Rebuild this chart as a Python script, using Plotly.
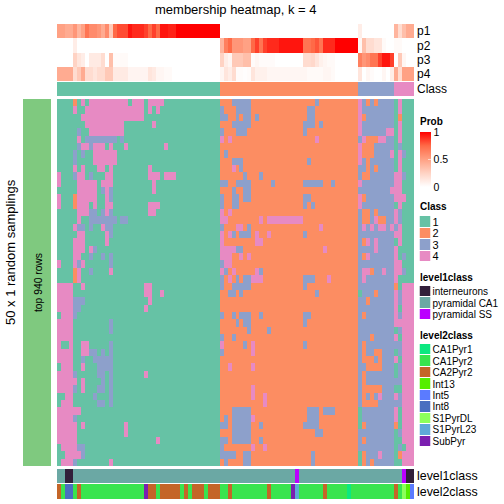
import plotly.graph_objects as go

N_COLS = 90
CLASS_COLORS = ["#66C2A5", "#FC8D62", "#8DA0CB", "#E78AC3"]
CLASS_NAMES = ["1", "2", "3", "4"]
TOP_LABELS = ["p1", "p2", "p3", "p4"]
column_class = [1] * 41 + [2] * 35 + [3] * 9 + [4] * 5

p1 = [.5, .5, .45, .45, .55, .4, .5, .7, .6, .6, .55, .45, .6, .3, .75, .82, .82, .82, .95, .9, .9, .9, .85, .75, .85, .75, .95, .95, .92, .92,
      1, 1, 1, 1, 1, 1, 1, 1, 1, 1, 1] + [0] * 35 + [.1, 0, 0, 0, 0, 0, 0, 0, 0] + [.4, .2, .35, .45, .45]
p2 = [0, 0, 0, 0, .1] + [0] * 36 + [.4, .65, .75, .55, .55, .55, .5, .5, .75, .85, .7, .85, .9, .9, .9, .95, .95, .95, .95, .95, .95, .7, .7, .75, .8, .7, .9, .9, .9,
      1, 1, 1, 1, 1, 1] + [.05, .35, .2, .2, .15, .15, .03, 0, 0] + [.03, .03, 0, 0, 0]
p3 = [0, 0, 0, 0, .25, .15, .1, 0, .12, .12, .12, .2, 0, .35, .02, .02, .03, .03] + [0] * 23 + \
     [.25, .1, .05, .3, .3, .3, .35, .35, .02, .05, .02, .02, .02, .02] + [0] * 7 + [.2, .2, .22, .15, .08, .05, .03, .03] + [0] * 6 + \
     [.65, .55, .6, .7, .7, .85, .95, .95, .85] + [0, .3, .05, 0, 0]
p4 = [.45, .45, .45, .45, .2, .3, .45, .2, .2, .15, .2, .2, .3, .3, .12, .12, .12, .12, .06, .06, .06, .06, .06, .15, .12, .05, .05, .03, .03] + [0] * 12 + \
     [.05, .15, .1, .2, .02, .02, .01, .02, .15, .08, .08, .08] + [.05] * 10 + [.03, .03, .03, .03, .05, .05, .03] + [0] * 6 + \
     [.15, 0, .05, .02, 0, 0, .05, 0, .1] + [.45, .2, .5, .5, .5]

# exceptions per row in the class-1 block: (first col, end col, class)
block1 = [
    [(4, 5, 2), (6, 7, 4), (8, 18, 4), (19, 22, 4), (23, 27, 4)],
    [(4, 5, 4), (7, 22, 4), (23, 24, 4), (25, 26, 4)],
    [(6, 22, 4)],
    [(7, 17, 4), (24, 25, 4)],
    [(5, 6, 3), (8, 17, 4)],
    [(5, 6, 4), (7, 15, 3), (16, 17, 3)],
    [(5, 6, 3), (6, 8, 4), (8, 9, 3), (9, 12, 4), (13, 14, 4), (17, 18, 4), (27, 28, 4)],
    [(4, 5, 3), (6, 7, 3), (9, 15, 4)],
    [(4, 5, 3), (9, 15, 4)],
    [(4, 5, 4), (6, 7, 4), (10, 12, 4), (13, 14, 4), (23, 24, 4)],
    [(0, 1, 4), (4, 5, 3), (5, 7, 4), (8, 9, 3), (12, 14, 4), (23, 26, 4), (27, 30, 4)],
    [(0, 1, 4), (5, 10, 4), (11, 14, 4), (24, 25, 4)],
    [(5, 10, 4), (11, 12, 3), (12, 13, 4), (13, 14, 3), (24, 25, 4)],
    [(0, 1, 4), (4, 5, 2), (5, 10, 4), (12, 13, 4), (13, 14, 3)],
    [(0, 1, 4), (4, 5, 2), (5, 8, 4), (9, 10, 4), (12, 14, 4), (23, 26, 4)],
    [(5, 8, 4), (8, 10, 3), (11, 12, 3), (12, 13, 4), (13, 14, 3), (23, 25, 4)],
    [(5, 6, 4), (8, 15, 3), (16, 18, 3)],
    [(4, 5, 4), (5, 7, 3), (8, 9, 3), (11, 12, 4), (12, 14, 3)],
    [(5, 7, 4), (12, 13, 4), (13, 14, 3)],
    [(4, 7, 4), (12, 13, 4)],
    [(4, 7, 4), (8, 9, 4), (9, 10, 3)],
    [(4, 6, 4), (8, 9, 3), (11, 12, 3), (13, 14, 3)],
    [(0, 1, 4), (4, 5, 4), (5, 6, 3), (6, 7, 4), (13, 14, 3)],
    [(4, 5, 2), (5, 6, 4), (8, 9, 3), (13, 14, 4)],
    [(4, 5, 2), (5, 6, 4)],
    [(0, 4, 4), (6, 7, 4), (22, 24, 4)],
    [(0, 4, 4), (22, 24, 4), (26, 27, 4)],
    [(0, 4, 4), (4, 7, 3), (23, 24, 4)],
    [(0, 4, 4), (4, 6, 3), (22, 23, 4)],
    [(1, 4, 4), (4, 5, 3)],
    [(0, 4, 4), (13, 14, 3)],
    [(0, 4, 4), (13, 14, 3)],
    [(0, 4, 4)],
    [(0, 1, 4), (3, 4, 4), (6, 8, 4), (13, 14, 3)],
    [(0, 4, 4), (6, 8, 4), (8, 10, 3), (11, 12, 3), (13, 14, 3)],
    [(0, 4, 4), (6, 7, 3), (9, 14, 3)],
    [(1, 4, 4), (6, 7, 4), (10, 14, 3)],
    [(0, 4, 4), (4, 5, 3), (10, 12, 3), (13, 14, 3), (22, 23, 4)],
    [(0, 5, 4), (6, 7, 4), (11, 12, 3), (13, 14, 3)],
    [(0, 4, 4), (4, 5, 3), (6, 7, 4), (10, 12, 3), (13, 14, 3)],
    [(2, 4, 4), (9, 10, 3), (13, 14, 3)],
    [(1, 4, 4), (10, 12, 3), (13, 14, 3)],
    [(0, 6, 4)],
    [(0, 4, 4), (4, 5, 3)],
    [(0, 5, 4), (6, 7, 4), (17, 18, 4)],
    [(0, 5, 4), (17, 18, 4)],
    [(0, 5, 4), (25, 26, 4)],
    [(1, 5, 4), (5, 7, 3)],
    [(2, 6, 4), (6, 7, 3)],
    [(1, 4, 4), (4, 5, 3), (13, 14, 4)],
]

# exceptions per row in the class-2 block, columns counted from the block start
block2 = [
    [(3, 8, 3), (24, 25, 3)],
    [(0, 1, 3), (4, 8, 3), (22, 24, 3)],
    [(0, 2, 3), (4, 5, 3), (6, 8, 3), (9, 10, 3), (22, 24, 3)],
    [(3, 8, 3), (21, 24, 3), (25, 26, 3)],
    [(0, 1, 3), (4, 7, 3), (21, 22, 3)],
    [(0, 1, 4), (2, 3, 4), (24, 25, 4)],
    [],
    [(1, 2, 3)],
    [(3, 6, 3), (22, 23, 3)],
    [(3, 4, 4), (5, 6, 3)],
    [(6, 7, 3), (10, 11, 3)],
    [(0, 2, 3), (4, 8, 3), (13, 14, 3), (21, 26, 3), (28, 29, 3)],
    [(3, 4, 3), (6, 8, 3)],
    [(0, 1, 3), (3, 5, 3), (6, 8, 3), (21, 23, 3)],
    [(0, 1, 3), (3, 5, 3), (21, 22, 3), (23, 24, 3)],
    [(0, 1, 4), (2, 3, 4)],
    [(0, 2, 4), (10, 11, 4), (12, 21, 4)],
    [(0, 1, 3), (4, 6, 4), (7, 8, 3), (25, 26, 4)],
    [(0, 1, 4), (2, 3, 4), (3, 4, 3), (5, 8, 3), (9, 10, 4), (12, 13, 4), (21, 22, 3)],
    [(0, 1, 4), (9, 11, 4)],
    [(0, 4, 4), (4, 6, 3), (26, 27, 4)],
    [(0, 3, 4), (5, 6, 4), (7, 8, 4)],
    [(0, 1, 3), (1, 3, 4)],
    [(0, 1, 4), (1, 2, 3), (3, 4, 4), (9, 10, 4), (10, 11, 3)],
    [(0, 1, 3), (2, 3, 4), (4, 5, 3), (6, 8, 3), (8, 11, 4), (21, 24, 3), (27, 28, 4)],
    [(0, 1, 3), (3, 8, 3), (21, 22, 3)],
    [(2, 4, 3), (5, 6, 3), (24, 25, 3)],
    [],
    [],
    [(0, 1, 3), (3, 4, 3), (5, 8, 3), (10, 11, 3), (21, 23, 3)],
    [(4, 5, 3), (6, 8, 3), (21, 22, 3)],
    [(7, 8, 3), (12, 13, 3)],
    [(0, 1, 3), (3, 4, 3)],
    [(0, 1, 4), (6, 7, 3), (8, 9, 4), (21, 22, 3)],
    [(0, 1, 3), (8, 9, 4)],
    [],
    [(2, 3, 4), (8, 9, 4)],
    [],
    [],
    [(8, 9, 4)],
    [(8, 9, 4), (11, 12, 4)],
    [(11, 12, 4)],
    [(3, 8, 3), (22, 25, 3), (26, 29, 3)],
    [(1, 2, 3), (3, 8, 3), (8, 9, 4), (22, 25, 3)],
    [(0, 2, 3), (3, 8, 3), (10, 11, 3), (21, 25, 3)],
    [(3, 8, 3), (24, 26, 3)],
    [(0, 2, 3), (3, 8, 3), (10, 11, 3)],
    [(0, 1, 3), (8, 9, 4), (11, 12, 4)],
    [(0, 4, 3), (6, 8, 3), (23, 24, 3)],
    [(0, 1, 2), (1, 2, 3), (6, 8, 3), (23, 24, 3)],
]

# last 14 columns, one digit per cell
block3 = [
    "43232333314111", "43333333314111", "42333333312111", "43333333314111", "43333334414111",
    "34222443314111", "42223333313111", "42223333414311", "43233333314111", "33232333314111",
    "32233333344311", "43333333344111", "33333333444111", "42333333344411", "43333333314111",
    "32232333343111", "32234223343111", "34343443434111", "33333333344111", "32434333314111",
    "33334333341111", "32433333341311", "33333333344111", "34423343344311", "34333333341111",
    "33333333321444", "13332333343444", "33233333343444", "33333333341444", "32333333343444",
    "33333333344444", "33333333313444", "33323333341444", "32333333333444", "32332233313444",
    "32223233341444", "33222233313444", "32333333313444", "32333333333444", "32222233311444",
    "32323433343444", "32222333333444", "13333333341444", "13333333341444", "12333333321444",
    "33333333313444", "32333333311444", "33333333313144", "12333433312444", "12323333311444",
]

LEVEL1_NAMES = ["interneurons", "pyramidal CA1", "pyramidal SS"]
LEVEL1_COLORS = ["#321F3A", "#6BA8A4", "#BB00FF"]
LEVEL2_NAMES = ["CA1Pyr1", "CA1Pyr2", "CA2Pyr2", "Int13", "Int5", "Int8", "S1PyrDL", "S1PyrL23", "SubPyr"]
LEVEL2_COLORS = ["#0CE880", "#39E44E", "#C46528", "#55EE00", "#5B7BFF", "#4A6FC0", "#8CFF5A", "#5FA8D8", "#7B1FB0"]
level1_exceptions = {2: 0, 3: 0, 60: 2, 87: 2, 88: 0, 89: 0}
level2_exceptions = {0: 2, 2: 5, 3: 5, 5: 2, 22: 8, 23: 2, 24: 2, 26: 2, 27: 2, 28: 2, 29: 2, 30: 2, 32: 2,
                     34: 2, 35: 2, 36: 2, 38: 2, 39: 2, 40: 2, 43: 2, 53: 2, 59: 8, 60: 7, 67: 2, 73: 0,
                     85: 2, 87: 6, 88: 3, 89: 4}


def build_matrix():
    rows = []
    for r in range(50):
        row = [1] * 41 + [2] * 35 + [int(ch) for ch in block3[r]]
        for a, b, v in block1[r]:
            for c in range(a, b):
                row[c] = v
        for a, b, v in block2[r]:
            for c in range(a, b):
                row[41 + c] = v
        rows.append(row)
    return rows


def steps(colors):
    n = len(colors)
    out = []
    for i, col in enumerate(colors):
        out += [[i / n, col], [(i + 1) / n, col]]
    return out


def ydom(top, bot):
    return [1 - bot / 504, 1 - top / 504]


def xdom(left, right):
    return [left / 504, right / 504]


FONT = "Liberation Sans"
fig = go.Figure()
MAIN_X = xdom(57, 414)
PROB_SCALE = [[0, "#FFFFFF"], [0.25, "#FFD3C4"], [0.5, "#FFA184"], [0.75, "#FF6A47"], [1, "#FF0000"]]

fig.add_trace(go.Heatmap(z=[p1, p2, p3, p4], y=TOP_LABELS, colorscale=PROB_SCALE, zmin=0, zmax=1, xaxis="x", yaxis="y",
                         hoverinfo="skip",
                         colorbar=dict(x=419.5 / 504, xanchor="left", thickness=11, thicknessmode="pixels",
                                       y=1 - 132 / 504, yanchor="top", len=55, lenmode="pixels", ypad=0, xpad=0,
                                       outlinewidth=0, tickvals=[0, 0.5, 1], ticktext=["0", "0.5", "1"],
                                       ticks="inside", ticklen=3, tickcolor="rgba(255,255,255,0.6)", tickwidth=1,
                                       tickfont=dict(family=FONT, size=10.5, color="#000"))))
fig.add_trace(go.Heatmap(z=[column_class], y=["Class"], colorscale=steps(CLASS_COLORS), zmin=0.5, zmax=4.5,
                         xaxis="x2", yaxis="y2", showscale=False, hoverinfo="skip"))
fig.add_trace(go.Heatmap(z=build_matrix(), colorscale=steps(CLASS_COLORS), zmin=0.5, zmax=4.5,
                         xaxis="x3", yaxis="y3", showscale=False, hoverinfo="skip"))
fig.add_trace(go.Heatmap(z=[[1]], colorscale=[[0, "#7FC97F"], [1, "#7FC97F"]], xaxis="x4", yaxis="y4", showscale=False, hoverinfo="skip"))
level1 = [level1_exceptions.get(c, 1) for c in range(N_COLS)]
level2 = [level2_exceptions.get(c, 1) for c in range(N_COLS)]
fig.add_trace(go.Heatmap(z=[level1], y=["level1class"], colorscale=steps(LEVEL1_COLORS), zmin=-0.5, zmax=2.5,
                         xaxis="x5", yaxis="y5", showscale=False, hoverinfo="skip"))
fig.add_trace(go.Heatmap(z=[level2], y=["level2class"], colorscale=steps(LEVEL2_COLORS), zmin=-0.5, zmax=8.5,
                         xaxis="x6", yaxis="y6", showscale=False, hoverinfo="skip"))
fig.add_trace(go.Heatmap(z=[[i] for i in range(4)], y=CLASS_NAMES, colorscale=steps(CLASS_COLORS), zmin=-0.5, zmax=3.5,
                         xaxis="x7", yaxis="y7", showscale=False, ygap=1, hoverinfo="skip"))
fig.add_trace(go.Heatmap(z=[[i] for i in range(3)], y=LEVEL1_NAMES, colorscale=steps(LEVEL1_COLORS), zmin=-0.5, zmax=2.5,
                         xaxis="x8", yaxis="y8", showscale=False, ygap=1, hoverinfo="skip"))
fig.add_trace(go.Heatmap(z=[[i] for i in range(9)], y=LEVEL2_NAMES, colorscale=steps(LEVEL2_COLORS), zmin=-0.5, zmax=8.5,
                         xaxis="x9", yaxis="y9", showscale=False, ygap=1, hoverinfo="skip"))

layout = dict(width=504, height=504, autosize=False, margin=dict(l=0, r=0, t=0, b=0),
              paper_bgcolor="white", plot_bgcolor="white", showlegend=False,
              font=dict(family=FONT, color="#000"))


def axes(i, xd, yd, size=None, standoff=0):
    sx = "" if i == 1 else str(i)
    layout["xaxis" + sx] = dict(domain=xd, anchor="y" + sx, visible=False, fixedrange=True)
    y = dict(domain=yd, anchor="x" + sx, autorange="reversed", fixedrange=True, showgrid=False, zeroline=False, showline=False)
    if size:
        y.update(side="right", ticks="", dtick=1, ticklabelstandoff=standoff,
                 tickfont=dict(family=FONT, size=size, color="#000"), type="category")
    else:
        y.update(visible=False)
    layout["yaxis" + sx] = y


axes(1, MAIN_X, ydom(24, 81), 12, 2)
axes(2, MAIN_X, ydom(82, 96), 12, 2)
axes(3, MAIN_X, ydom(99, 466))
axes(4, xdom(23, 51), ydom(99, 466))
axes(5, MAIN_X, ydom(469, 483), 12.4, 2)
axes(6, MAIN_X, ydom(484, 499), 12.4, 2)
axes(7, xdom(419.5, 430.5), ydom(216, 262), 11, 1)
axes(8, xdom(419.5, 430.5), ydom(286, 320), 10, 1)
axes(9, xdom(419.5, 430.5), ydom(344, 447), 10, 1)


def note(text, x, y, size, bold=False, angle=0, anchor="left"):
    return dict(text=f"<b>{text}</b>" if bold else text, x=x / 504, y=1 - y / 504, xref="paper", yref="paper", showarrow=False,
                xanchor=anchor, yanchor="middle", textangle=angle, font=dict(family=FONT, size=size, color="#000"))


layout["annotations"] = [
    note("membership heatmap, k = 4", 236, 9.5, 13, anchor="center"),
    note("50 x 1 random samplings", 10, 252, 13, angle=-90, anchor="center"),
    note("top 940 rows", 38, 283, 10.3, angle=-90, anchor="center"),
    note("Prob", 418, 121.5, 10, bold=True),
    note("Class", 418, 206, 10, bold=True),
    note("level1class", 418, 277, 10, bold=True),
    note("level2class", 418, 335, 10, bold=True),
]
fig.update_layout(**layout)
fig.write_html("out.html", config={"displayModeBar": False},
               post_script="document.body.style.margin='0';document.body.style.overflow='hidden';")
